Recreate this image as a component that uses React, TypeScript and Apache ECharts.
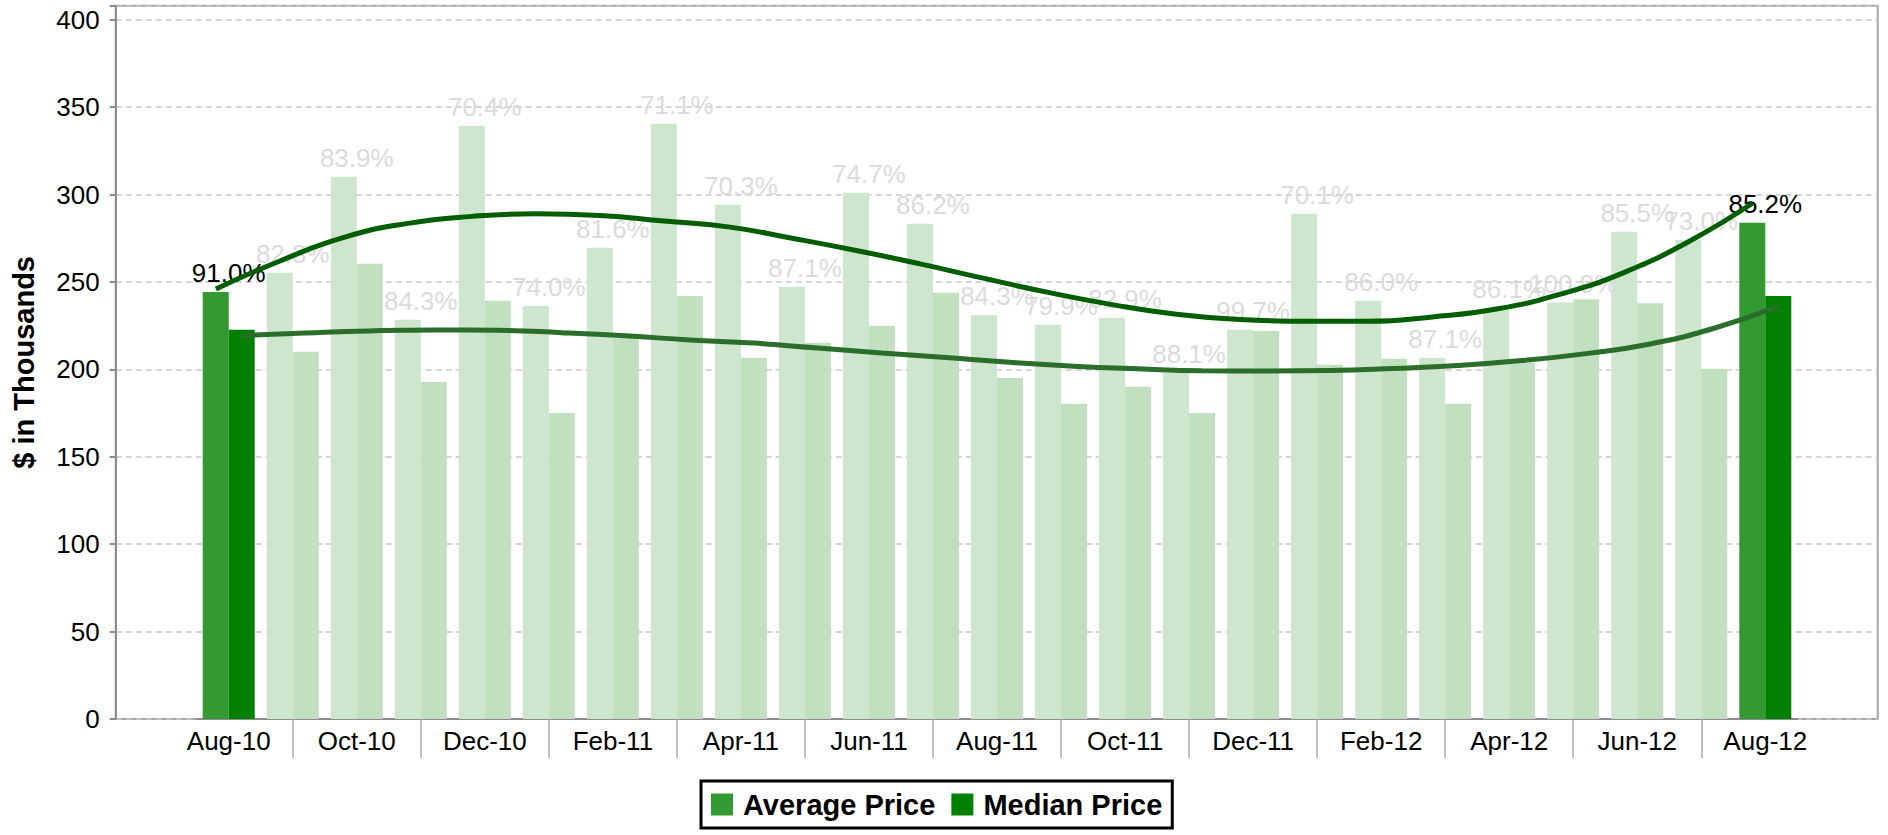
import React, { useEffect, useRef } from 'react';
import * as echarts from 'echarts';

const months = [
  'Aug-10', 'Sep-10', 'Oct-10', 'Nov-10', 'Dec-10', 'Jan-11', 'Feb-11', 'Mar-11', 'Apr-11',
  'May-11', 'Jun-11', 'Jul-11', 'Aug-11', 'Sep-11', 'Oct-11', 'Nov-11', 'Dec-11', 'Jan-12',
  'Feb-12', 'Mar-12', 'Apr-12', 'May-12', 'Jun-12', 'Jul-12', 'Aug-12',
];

const averagePrice = [
  244.3, 255.2, 310.2, 228.3, 339.3, 236.3, 269.5, 340.5, 294.1, 247.2, 301.0, 283.3, 231.0,
  225.5, 229.5, 198.0, 222.6, 289.0, 239.2, 206.6, 235.0, 238.2, 278.7, 274.1, 283.8,
];

const medianPrice = [
  222.6, 210.0, 260.4, 192.8, 239.2, 175.1, 218.0, 242.0, 206.6, 215.2, 224.9, 243.8, 195.1,
  180.3, 190.0, 175.1, 222.0, 202.6, 206.0, 180.3, 203.7, 240.1, 237.8, 200.3, 242.0,
];

const ratioLabels = [
  '91.0%', '82.3%', '83.9%', '84.3%', '70.4%', '74.0%', '81.6%', '71.1%', '70.3%', '87.1%',
  '74.7%', '86.2%', '84.3%', '79.9%', '82.9%', '88.1%', '99.7%', '70.1%', '86.0%', '87.1%',
  '86.1%', '100.9%', '85.5%', '73.0%', '85.2%',
];

const averageTrend = [
  246, 262, 275.5, 283.5, 287.5, 289, 288, 284.8, 281.5, 275, 268, 260.3, 252, 244, 237,
  231.5, 228.5, 227.5, 227.5, 230, 234.5, 243, 255.5, 273, 295,
];

const medianTrend = [
  219.3, 220.8, 222, 222.5, 222.3, 221, 219.2, 216.8, 215, 212.2, 209.4, 206.8, 204, 201.8,
  200.3, 199.2, 199, 199.3, 200.5, 202.2, 205, 209, 214.5, 223.5, 236,
];

const highlightedMonths = ['Aug-10', 'Aug-12'];

const FONT = "'Liberation Sans', Arial, Helvetica, sans-serif";
const AVG = '#339933';
const MED = '#008000';
const AVG_FADED = '#cde6cd';
const MED_FADED = '#c0e0c0';

export default function App() {
  const ref = useRef<HTMLDivElement>(null);

  useEffect(() => {
    const chart = echarts.init(ref.current as HTMLDivElement, null, { renderer: 'svg' });
    const isHi = (i: number) => highlightedMonths.includes(months[i]);

    chart.setOption({
      animation: false,
      textStyle: { fontFamily: FONT },
      grid: [
        {
          left: 115.7, right: 10.3, top: 5.7, bottom: 116,
          show: true, borderColor: '#a6a6a6', borderWidth: 2, backgroundColor: 'transparent',
        },
        { left: 196.7, right: 90.7, top: 5.7, bottom: 116 },
      ],
      xAxis: [
        { gridIndex: 0, type: 'value', min: 0, max: 1, show: false },
        {
          gridIndex: 1,
          type: 'category',
          data: months,
          boundaryGap: true,
          axisLine: { show: true, lineStyle: { color: '#8c8c8c', width: 2 } },
          axisTick: {
            show: true,
            alignWithLabel: true,
            interval: (i: number) => i % 2 === 1,
            length: 39,
            lineStyle: { color: '#ababab', width: 1.5 },
          },
          axisLabel: { interval: 1, fontSize: 26, color: '#000', margin: 9, fontFamily: FONT },
          splitLine: { show: false },
        },
        { gridIndex: 1, type: 'value', min: -0.5, max: months.length - 0.5, show: false },
      ],
      yAxis: [
        {
          gridIndex: 0,
          type: 'value',
          min: 0,
          max: 408,
          interval: 50,
          name: '$ in Thousands',
          nameLocation: 'middle',
          nameGap: 77,
          nameTextStyle: { fontSize: 29, fontWeight: 'bold', color: '#000', fontFamily: FONT },
          axisLine: { show: true, lineStyle: { color: '#8c8c8c', width: 2 } },
          axisTick: { show: true, length: 6, lineStyle: { color: '#8c8c8c', width: 2 } },
          axisLabel: {
            fontSize: 26,
            color: '#000',
            margin: 16,
            fontFamily: FONT,
            formatter: (v: number) => (v % 50 === 0 ? String(v) : ''),
          },
          splitLine: { show: true, lineStyle: { color: '#c8c8c8', type: [6, 4], width: 1.5 } },
        },
        { gridIndex: 1, type: 'value', min: 0, max: 408, show: false, splitLine: { show: false } },
      ],
      legend: {
        data: ['Average Price', 'Median Price'],
        left: 701,
        top: 781,
        orient: 'horizontal',
        icon: 'rect',
        itemWidth: 22,
        itemHeight: 22,
        itemGap: 16,
        borderColor: '#000',
        borderWidth: 3,
        padding: [9, 10],
        textStyle: {
          fontSize: 29, fontWeight: 'bold', color: '#000', fontFamily: FONT, padding: [0, 0, 0, 5],
        },
      },
      series: [
        {
          name: 'Average Price',
          type: 'bar',
          xAxisIndex: 1,
          yAxisIndex: 1,
          barWidth: 26,
          barGap: '0%',
          itemStyle: { color: AVG },
          z: 2,
          data: averagePrice.map((v, i) => ({
            value: v,
            itemStyle: { color: isHi(i) ? AVG : AVG_FADED },
            label: { color: isHi(i) ? '#000' : '#dbdbdb' },
          })),
          label: {
            show: true,
            position: 'top',
            distance: 6,
            offset: [13, 0],
            fontSize: 26,
            fontFamily: FONT,
            formatter: (p: any) => ratioLabels[p.dataIndex],
          },
        },
        {
          name: 'Median Price',
          type: 'bar',
          xAxisIndex: 1,
          yAxisIndex: 1,
          barWidth: 26,
          barGap: '0%',
          itemStyle: { color: MED },
          z: 2,
          data: medianPrice.map((v, i) => ({
            value: v,
            itemStyle: { color: isHi(i) ? MED : MED_FADED },
          })),
        },
        {
          name: 'Average Trend',
          type: 'line',
          xAxisIndex: 2,
          yAxisIndex: 1,
          smooth: true,
          symbol: 'none',
          silent: true,
          z: 5,
          lineStyle: { color: '#005e00', width: 5 },
          data: averageTrend.map((v, i) => [i - 0.2, v]),
        },
        {
          name: 'Median Trend',
          type: 'line',
          xAxisIndex: 2,
          yAxisIndex: 1,
          smooth: true,
          symbol: 'none',
          silent: true,
          z: 5,
          lineStyle: { color: '#2b6d2b', width: 5 },
          data: medianTrend.map((v, i) => [i + 0.2, v]),
        },
      ],
    });

    return () => chart.dispose();
  }, []);

  return (
    <div
      ref={ref}
      style={{ position: 'fixed', left: 0, top: 0, width: 1888, height: 835, background: '#fff' }}
    />
  );
}
